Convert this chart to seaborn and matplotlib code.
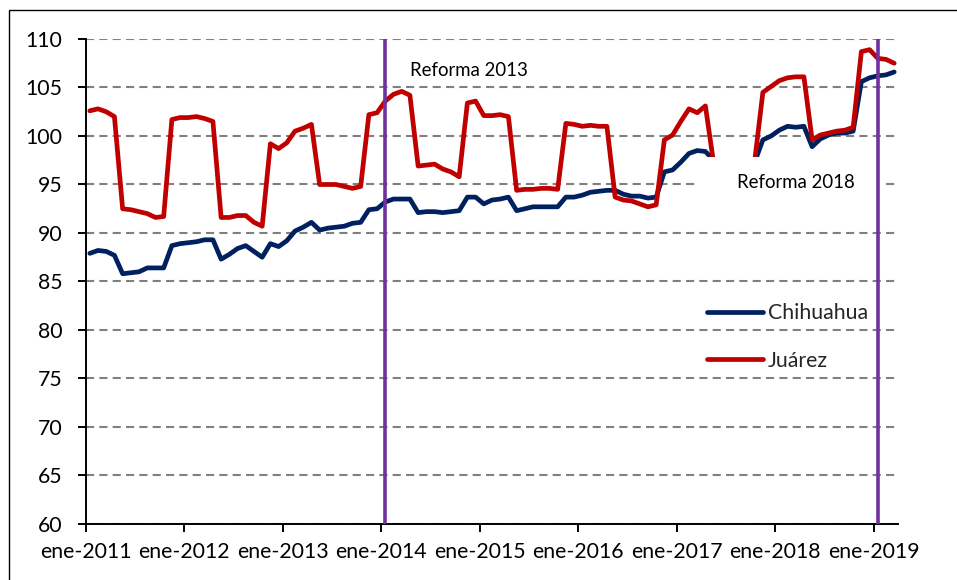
import numpy as np
import pandas as pd
import matplotlib.pyplot as plt
import seaborn as sns
from matplotlib.patches import Rectangle

# datos mensuales ene-2011 .. mar-2019
years = list(range(2011, 2020))
tick_labels = ['ene-%d' % y for y in years]

chihuahua = [87.9, 88.2, 88.1, 87.7, 85.8, 85.9, 86.0, 86.4, 86.4, 86.4,
             88.7, 88.9, 89.0, 89.1, 89.3, 89.3, 87.3, 87.8, 88.4, 88.7,
             88.1, 87.5, 88.9, 88.6, 89.2, 90.2, 90.6, 91.1, 90.3, 90.5,
             90.6, 90.7, 91.0, 91.1, 92.4, 92.5, 93.2, 93.5, 93.5, 93.5,
             92.1, 92.2, 92.2, 92.1, 92.2, 92.3, 93.7, 93.7, 93.0, 93.4,
             93.5, 93.7, 92.3, 92.5, 92.7, 92.7, 92.7, 92.7, 93.7, 93.7,
             93.9, 94.2, 94.3, 94.4, 94.4, 94.0, 93.8, 93.8, 93.6, 93.7,
             96.3, 96.5, 97.3, 98.2, 98.5, 98.4, 97.5, 97.2, 96.9, 97.0,
             97.2, 97.3, 99.6, 100.0, 100.6, 101.0, 100.9, 101.0, 98.9, 99.7,
             100.1, 100.3, 100.3, 100.5, 105.6, 106.0, 106.2, 106.3, 106.6]

juarez = [102.6, 102.8, 102.5, 102.0, 92.5, 92.4, 92.2, 92.0, 91.6, 91.7,
          101.7, 101.9, 101.9, 102.0, 101.8, 101.5, 91.6, 91.6, 91.8, 91.8,
          91.1, 90.7, 99.2, 98.7, 99.3, 100.5, 100.8, 101.2, 95.0, 95.0,
          95.0, 94.8, 94.6, 94.8, 102.2, 102.4, 103.6, 104.3, 104.6, 104.2,
          96.9, 97.0, 97.1, 96.6, 96.3, 95.8, 103.4, 103.6, 102.1, 102.1,
          102.2, 102.0, 94.4, 94.5, 94.5, 94.6, 94.6, 94.5, 101.3, 101.2,
          101.0, 101.1, 101.0, 101.0, 93.7, 93.4, 93.3, 93.0, 92.7, 92.9,
          99.6, 100.1, 101.5, 102.8, 102.4, 103.1, 97.2, 96.8, 96.5, 96.7,
          97.0, 97.4, 104.5, 105.1, 105.7, 106.0, 106.1, 106.1, 99.6, 100.1,
          100.3, 100.5, 100.6, 100.9, 108.7, 108.9, 108.0, 107.9, 107.5]

reformas = [36, 96]  # ene-2014, ene-2019
reforma_labels = ['Reforma 2013', 'Reforma 2018']

n = len(chihuahua)
meses = np.arange(n) + 0.5
df = pd.DataFrame({
    'mes': np.concatenate([meses, meses]),
    'indice': chihuahua + juarez,
    'serie': ['Chihuahua'] * n + ['Juárez'] * n,
})

sns.set_style('ticks')
plt.rcParams['font.family'] = ['Lato', 'DejaVu Sans']

W, H = 957, 580
fig = plt.figure(figsize=(W / 100, H / 100), dpi=100)
ax = fig.add_axes([85.7 / W, 1 - 524 / H, (898.3 - 85.7) / W, (524 - 39) / H])

ax.grid(axis='y', color='#808080', linewidth=1.5, linestyle=(0, (3.9, 2.5)))
ax.set_axisbelow(True)

sns.lineplot(data=df, x='mes', y='indice', hue='serie',
             palette={'Chihuahua': '#002060', 'Juárez': '#C00000'},
             linewidth=3.4, solid_joinstyle='round', solid_capstyle='round',
             ax=ax, zorder=2)

# caja blanca de la etiqueta 2018
ax.add_patch(Rectangle((695 / W, 1 - 207 / H), 190 / W, 50 / H,
                       transform=fig.transFigure, facecolor='white',
                       edgecolor='none', zorder=3))

for r in reformas:
    ax.axvline(r + 0.5, color='#7030A0', linewidth=2.6, zorder=4)

ax.text(469 / W, 1 - 70 / H, reforma_labels[0], transform=fig.transFigure,
        ha='center', va='center', fontsize=13.4, color='black', zorder=6)
ax.text(796 / W, 1 - 182 / H, reforma_labels[1], transform=fig.transFigure,
        ha='center', va='center', fontsize=13.4, color='black', zorder=6)

ax.set_xlim(0, 99)
ax.set_ylim(60, 110)
ax.set_xticks(range(0, 97, 12))
ax.set_xticklabels(tick_labels)
ax.set_yticks(range(60, 111, 5))
ax.set_xlabel('')
ax.set_ylabel('')
ax.tick_params(axis='both', direction='out', length=5.8, width=1.4,
               labelsize=15.3, colors='black')
ax.tick_params(axis='y', pad=11)
ax.tick_params(axis='x', pad=7)
sns.despine(ax=ax)
for s in ['left', 'bottom']:
    ax.spines[s].set_color('black')
    ax.spines[s].set_linewidth(1.4)

handles, labels = ax.get_legend_handles_labels()
ax.get_legend().remove()
leg = ax.legend(handles, labels, loc='upper left', frameon=False,
                bbox_to_anchor=(707 / W, 1 - 303 / H),
                bbox_transform=fig.transFigure, borderaxespad=0, borderpad=0,
                handlelength=2.62, handletextpad=0.25, labelspacing=1.3,
                fontsize=15.3)
for h in leg.legend_handles:
    h.set_linewidth(3.4)
    h.set_solid_capstyle('round')

# borde del area del grafico
fig.add_artist(Rectangle((9 / W, -0.5), 2, 0.5 + 1 - 10 / H,
                         transform=fig.transFigure, fill=False,
                         edgecolor='black', linewidth=1))

fig.savefig('out.png', dpi=100)
